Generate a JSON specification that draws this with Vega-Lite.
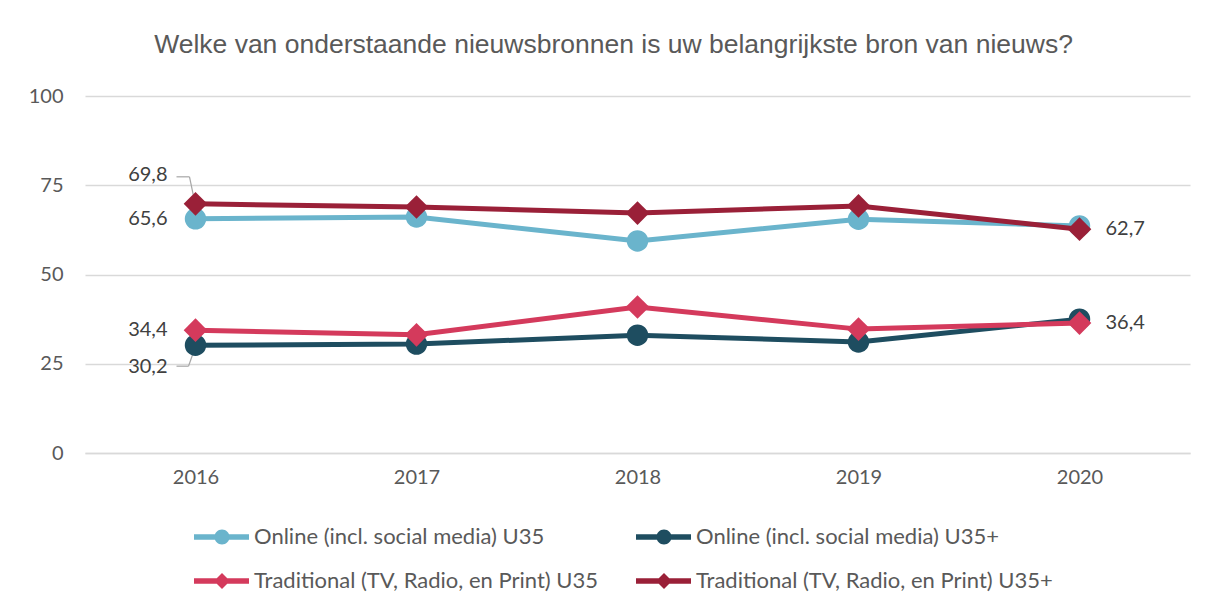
{
  "$schema": "https://vega.github.io/schema/vega-lite/v6.json",
  "width": 1105,
  "height": 357,
  "autosize": {"type": "none"},
  "padding": {"left": 85, "top": 96, "right": 16, "bottom": 155},
  "background": "white",
  "config": {
    "view": {"stroke": null},
    "locale": {"number": {"decimal": ",", "thousands": ".", "grouping": [3], "currency": ["€", ""]}},
    "font": "Lato"
  },
  "title": {
    "text": "Welke van onderstaande nieuwsbronnen is uw belangrijkste bron van nieuws?",
    "font": "Liberation Sans",
    "fontSize": 26.5,
    "fontWeight": "normal",
    "color": "#595959",
    "anchor": "middle",
    "dx": -24,
    "offset": 28
  },
  "data": {
    "values": [
      {"series": "Online (incl. social media) U35", "year": "2016", "value": 65.6},
      {"series": "Online (incl. social media) U35", "year": "2017", "value": 66.1},
      {"series": "Online (incl. social media) U35", "year": "2018", "value": 59.4},
      {"series": "Online (incl. social media) U35", "year": "2019", "value": 65.5},
      {"series": "Online (incl. social media) U35", "year": "2020", "value": 63.6},
      {"series": "Online (incl. social media) U35+", "year": "2016", "value": 30.2},
      {"series": "Online (incl. social media) U35+", "year": "2017", "value": 30.5},
      {"series": "Online (incl. social media) U35+", "year": "2018", "value": 33.0},
      {"series": "Online (incl. social media) U35+", "year": "2019", "value": 31.1},
      {"series": "Online (incl. social media) U35+", "year": "2020", "value": 37.5},
      {"series": "Traditional (TV, Radio, en Print) U35", "year": "2016", "value": 34.4},
      {"series": "Traditional (TV, Radio, en Print) U35", "year": "2017", "value": 33.1},
      {"series": "Traditional (TV, Radio, en Print) U35", "year": "2018", "value": 40.9},
      {"series": "Traditional (TV, Radio, en Print) U35", "year": "2019", "value": 34.7},
      {"series": "Traditional (TV, Radio, en Print) U35", "year": "2020", "value": 36.4},
      {"series": "Traditional (TV, Radio, en Print) U35+", "year": "2016", "value": 69.8},
      {"series": "Traditional (TV, Radio, en Print) U35+", "year": "2017", "value": 68.9},
      {"series": "Traditional (TV, Radio, en Print) U35+", "year": "2018", "value": 67.2},
      {"series": "Traditional (TV, Radio, en Print) U35+", "year": "2019", "value": 69.2},
      {"series": "Traditional (TV, Radio, en Print) U35+", "year": "2020", "value": 62.7}
    ]
  },
  "encoding": {
    "x": {
      "field": "year", "type": "ordinal",
      "scale": {"type": "point", "padding": 0.5},
      "axis": {"title": null, "labelAngle": 0, "labelFontSize": 20, "labelColor": "#595959", "labelPadding": 14, "ticks": false, "domain": true, "domainColor": "#d9d9d9", "domainWidth": 1.3, "grid": false}
    },
    "y": {
      "field": "value", "type": "quantitative",
      "scale": {"domain": [0, 100], "nice": false},
      "axis": {"title": null, "values": [0, 25, 50, 75, 100], "labelFontSize": 20, "labelColor": "#595959", "labelPadding": 22, "ticks": false, "domain": false, "grid": true, "gridColor": "#d9d9d9", "gridWidth": 1.3}
    }
  },
  "layer": [
    {
      "transform": [{"filter": "datum.year == '2016' && datum.series == 'Traditional (TV, Radio, en Print) U35+'"}],
      "mark": {"type": "rule", "color": "#a6a6a6", "strokeWidth": 1.2, "xOffset": -19, "yOffset": -27, "x2Offset": -6, "y2Offset": -27},
      "encoding": {"x2": {"field": "year"}, "y2": {"field": "value"}}
    },
    {
      "transform": [{"filter": "datum.year == '2016' && datum.series == 'Traditional (TV, Radio, en Print) U35+'"}],
      "mark": {"type": "rule", "color": "#a6a6a6", "strokeWidth": 1.2, "xOffset": -6, "yOffset": -27, "x2Offset": -1, "y2Offset": -3},
      "encoding": {"x2": {"field": "year"}, "y2": {"field": "value"}}
    },
    {
      "transform": [{"filter": "datum.year == '2016' && datum.series == 'Online (incl. social media) U35+'"}],
      "mark": {"type": "rule", "color": "#a6a6a6", "strokeWidth": 1.2, "xOffset": -19, "yOffset": 21, "x2Offset": -7, "y2Offset": 21},
      "encoding": {"x2": {"field": "year"}, "y2": {"field": "value"}}
    },
    {
      "transform": [{"filter": "datum.year == '2016' && datum.series == 'Online (incl. social media) U35+'"}],
      "mark": {"type": "rule", "color": "#a6a6a6", "strokeWidth": 1.2, "xOffset": -7, "yOffset": 21, "x2Offset": -1, "y2Offset": 4},
      "encoding": {"x2": {"field": "year"}, "y2": {"field": "value"}}
    },
    {
      "transform": [{"filter": "datum.series == 'Online (incl. social media) U35'"}],
      "mark": {"type": "line", "strokeWidth": 5, "point": {"filled": true, "shape": "circle", "size": 460, "opacity": 1}},
      "encoding": {
        "color": {
          "field": "series", "type": "nominal",
          "scale": {
            "domain": ["Online (incl. social media) U35", "Online (incl. social media) U35+", "Traditional (TV, Radio, en Print) U35", "Traditional (TV, Radio, en Print) U35+"],
            "range": ["#6AB4CC", "#1E4D60", "#D43A5C", "#9A2038"]
          },
          "legend": {
            "title": null,
            "orient": "none",
            "legendX": 108,
            "legendY": 430,
            "direction": "horizontal",
            "columns": 2,
            "columnPadding": 36,
            "rowPadding": 22,
            "padding": 0,
            "symbolSize": 400,
            "labelFontSize": 22,
            "labelFont": "Lato",
            "labelColor": "#595959",
            "labelLimit": 600,
            "labelOffset": 39,
            "symbolType": "M-1,-0.28H4.5V0.28H-1Z",
            "encode": {
              "symbols": {
                "update": {
                  "shape": {"signal": "indexof(datum.value, 'Online') === 0 ? 'M-1,-0.28H4.5V0.28H-1Z M2.55,0A0.75,0.75 0 1,1 1.05,0A0.75,0.75 0 1,1 2.55,0Z' : 'M-1,-0.28H4.5V0.28H-1Z M1.8,-0.8L2.6,0L1.8,0.8L1,0Z'"},
                  "fill": {"scale": "color", "field": "value"},
                  "strokeWidth": {"value": 0},
                  "opacity": {"value": 1},
                  "fillOpacity": {"value": 1}
                }
              }
            }
          }
        }
      }
    },
    {
      "transform": [{"filter": "datum.series == 'Online (incl. social media) U35+'"}],
      "mark": {"type": "line", "strokeWidth": 5, "point": {"filled": true, "shape": "circle", "size": 460, "opacity": 1}},
      "encoding": {"color": {"field": "series", "type": "nominal"}}
    },
    {
      "transform": [{"filter": "datum.series == 'Traditional (TV, Radio, en Print) U35'"}],
      "mark": {"type": "line", "strokeWidth": 5, "point": {"filled": true, "shape": "diamond", "size": 560, "opacity": 1}},
      "encoding": {"color": {"field": "series", "type": "nominal"}}
    },
    {
      "transform": [{"filter": "datum.series == 'Traditional (TV, Radio, en Print) U35+'"}],
      "mark": {"type": "line", "strokeWidth": 5, "point": {"filled": true, "shape": "diamond", "size": 560, "opacity": 1}},
      "encoding": {"color": {"field": "series", "type": "nominal"}}
    },
    {
      "transform": [{"filter": "datum.year == '2016' && (datum.series == 'Online (incl. social media) U35' || datum.series == 'Traditional (TV, Radio, en Print) U35')"}],
      "mark": {"type": "text", "align": "right", "baseline": "middle", "dx": -28, "fontSize": 20, "color": "#404040"},
      "encoding": {"text": {"field": "value", "type": "quantitative", "format": ".1f"}}
    },
    {
      "transform": [{"filter": "datum.year == '2016' && datum.series == 'Traditional (TV, Radio, en Print) U35+'"}],
      "mark": {"type": "text", "align": "right", "baseline": "middle", "dx": -28, "dy": -29, "fontSize": 20, "color": "#404040"},
      "encoding": {"text": {"field": "value", "type": "quantitative", "format": ".1f"}}
    },
    {
      "transform": [{"filter": "datum.year == '2016' && datum.series == 'Online (incl. social media) U35+'"}],
      "mark": {"type": "text", "align": "right", "baseline": "middle", "dx": -28, "dy": 22, "fontSize": 20, "color": "#404040"},
      "encoding": {"text": {"field": "value", "type": "quantitative", "format": ".1f"}}
    },
    {
      "transform": [{"filter": "datum.year == '2020' && (datum.series == 'Traditional (TV, Radio, en Print) U35+' || datum.series == 'Traditional (TV, Radio, en Print) U35')"}],
      "mark": {"type": "text", "align": "left", "baseline": "middle", "dx": 26, "fontSize": 20, "color": "#404040"},
      "encoding": {"text": {"field": "value", "type": "quantitative", "format": ".1f"}}
    }
  ]
}
